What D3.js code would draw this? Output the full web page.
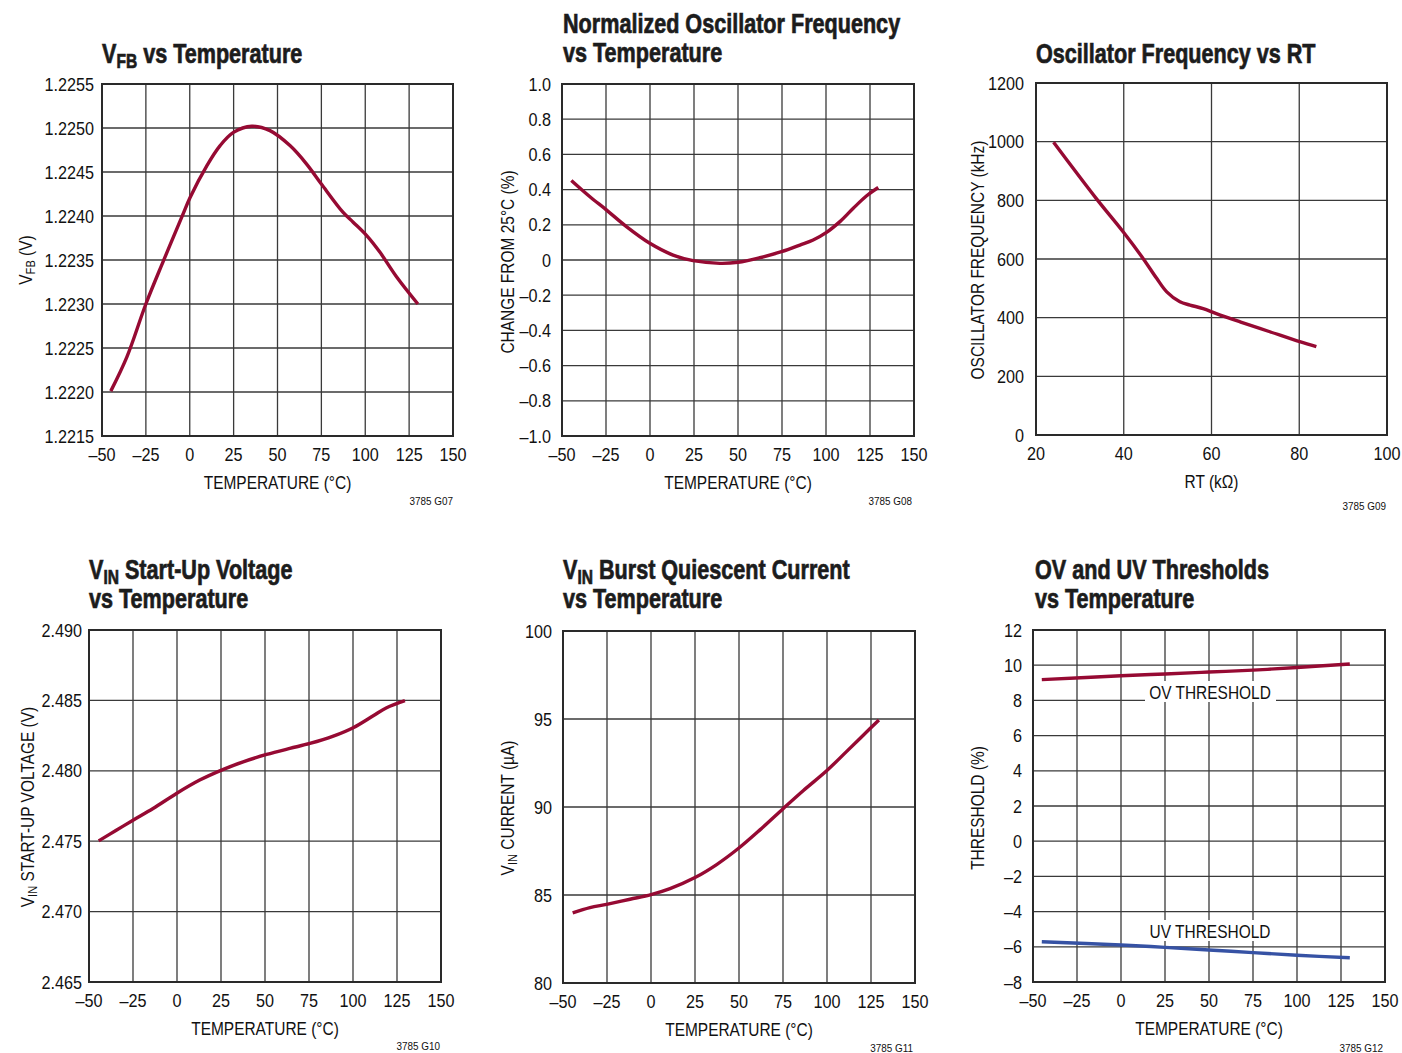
<!DOCTYPE html>
<html>
<head>
<meta charset="utf-8">
<script src="https://cdn.jsdelivr.net/npm/d3@7/dist/d3.min.js"></script>
<style>
  html, body { margin: 0; padding: 0; background: #fff; }
  svg { display: block; }
  text { font-family: "Liberation Sans", Arial, "Roboto", sans-serif; fill: #111; }
  .title { font-weight: bold; font-size: 27px; fill: #1c1c1c; stroke: #1c1c1c; stroke-width: 0.7px; }
  .tick { font-size: 18px; }
  .axt { font-size: 18px; }
  .code { font-size: 11px; }
</style>
</head>
<body>
<svg id="chart" width="1402" height="1053"></svg>
<script>
// ---------------- DATA ----------------
const tempTicks = [-50, -25, 0, 25, 50, 75, 100, 125, 150];
const tempTickLabels = ["–50", "–25", "0", "25", "50", "75", "100", "125", "150"];

// G07: VFB vs Temperature
const vfbTemp   = [-45, -35.8, -25, -15, -4.5, 0.2, 9.7, 17.3, 24.9, 35.3, 45.7, 57.1, 66.6, 75.1, 87.4, 93.1, 100.7, 108.3, 117.8, 130];
const vfbValues = [1.22201, 1.22240, 1.22300, 1.22349, 1.22399, 1.22421, 1.22457, 1.22480, 1.22495, 1.22502, 1.22497, 1.22480, 1.22459, 1.22436, 1.22404, 1.22393, 1.22378, 1.22359, 1.22331, 1.22300];
const vfbTicks = [1.2215, 1.2220, 1.2225, 1.2230, 1.2235, 1.2240, 1.2245, 1.2250, 1.2255];
const vfbTickLabels = ["1.2215", "1.2220", "1.2225", "1.2230", "1.2235", "1.2240", "1.2245", "1.2250", "1.2255"];

// G08: Normalized oscillator frequency vs temperature
const oscTemp   = [-44.7, -34.3, -24.8, -13.4, -0.1, 13.1, 24.5, 39.7, 50.1, 62.4, 74.7, 85.2, 92.7, 100.3, 107.9, 115.5, 123.1, 129.7];
const oscChange = [0.452, 0.361, 0.285, 0.190, 0.095, 0.028, -0.004, -0.019, -0.013, 0.013, 0.047, 0.085, 0.114, 0.157, 0.218, 0.294, 0.365, 0.412];
const oscTicks = [-1.0, -0.8, -0.6, -0.4, -0.2, 0, 0.2, 0.4, 0.6, 0.8, 1.0];
const oscTickLabels = ["–1.0", "–0.8", "–0.6", "–0.4", "–0.2", "0", "0.2", "0.4", "0.6", "0.8", "1.0"];

// G09: Oscillator frequency vs RT
const rtValues   = [24, 33.8, 39.9, 44.4, 47.5, 49.8, 52.8, 55.1, 58.1, 61.1, 66.5, 73.3, 80.1, 83.9];
const freqValues = [998, 805, 692, 602, 534, 488, 454, 443, 431, 414, 386, 352, 318, 301];
const rtTicks = [20, 40, 60, 80, 100];
const rtTickLabels = ["20", "40", "60", "80", "100"];
const freqTicks = [0, 200, 400, 600, 800, 1000, 1200];
const freqTickLabels = ["0", "200", "400", "600", "800", "1000", "1200"];

// G10: VIN start-up voltage vs temperature
const startTemp   = [-44.5, -34.5, -25, -13.6, -0.3, 12.9, 25.3, 37.6, 50.9, 64.1, 75.5, 88.8, 100.1, 111.5, 119.1, 129.5];
const startValues = [2.47502, 2.47578, 2.47649, 2.47732, 2.47839, 2.47934, 2.48005, 2.48064, 2.48116, 2.48159, 2.48194, 2.48246, 2.48306, 2.48391, 2.48448, 2.48498];
const startTicks = [2.465, 2.470, 2.475, 2.480, 2.485, 2.490];
const startTickLabels = ["2.465", "2.470", "2.475", "2.480", "2.485", "2.490"];

// G11: VIN burst quiescent current vs temperature
const burstTemp    = [-44.5, -34.7, -25.2, -11.9, 0, 10.8, 25, 37.3, 49.6, 61.9, 75.2, 86.6, 99.8, 111.2, 120.6, 129.5];
const burstCurrent = [83.98, 84.28, 84.47, 84.76, 85.02, 85.36, 85.99, 86.73, 87.64, 88.70, 89.92, 90.94, 92.06, 93.16, 94.08, 94.94];
const burstTicks = [80, 85, 90, 95, 100];
const burstTickLabels = ["80", "85", "90", "95", "100"];

// G12: OV and UV thresholds vs temperature
const thrTemp = [-45, 0, 25, 50, 75, 100, 130];
const ovThreshold = [9.18, 9.40, 9.50, 9.61, 9.72, 9.87, 10.07];
const uvThreshold = [-5.71, -5.90, -6.03, -6.18, -6.33, -6.48, -6.62];
const thrTicks = [-8, -6, -4, -2, 0, 2, 4, 6, 8, 10, 12];
const thrTickLabels = ["–8", "–6", "–4", "–2", "0", "2", "4", "6", "8", "10", "12"];

// ---------------- DRAWING ----------------
const RED = "#960a33";
const BLUE = "#3652a4";
const SX_TITLE = 0.80, SX_TICK = 0.9, SX_AXT = 0.86;
const svg = d3.select("#chart");

function zip(xs, ys) { return xs.map((x, i) => [x, ys[i]]); }

// text placed at (x,y), horizontally condensed by sx; optional rotation
function ctext(g, cls, x, y, anchor, sx, rot) {
  return g.append("text").attr("class", cls).attr("text-anchor", anchor)
    .attr("transform", `translate(${x},${y})` + (rot ? ` rotate(${rot})` : "") + ` scale(${sx},1)`);
}

function rich(t, parts) {
  let prevSub = false;
  parts.forEach(([txt, sub]) => {
    const ts = t.append("tspan").text(txt);
    if (sub) { ts.attr("font-size", "0.72em").attr("dy", "0.25em"); }
    else if (prevSub) { ts.attr("dy", "-0.18em"); }
    prevSub = sub;
  });
  return t;
}

function panel(cfg) {
  const g = svg.append("g");
  const x = d3.scaleLinear().domain(cfg.xDomain).range([cfg.left, cfg.right]);
  const y = d3.scaleLinear().domain(cfg.yDomain).range([cfg.bottom, cfg.top]);

  // grid
  const grid = g.append("g");
  grid.selectAll("line.v").data(cfg.xTicks.slice(1, -1)).join("line")
    .attr("x1", d => x(d)).attr("x2", d => x(d))
    .attr("y1", cfg.top).attr("y2", cfg.bottom)
    .attr("stroke", "#3a3a3a").attr("stroke-width", 1.3);
  grid.selectAll("line.h").data(cfg.yTicks.slice(1, -1)).join("line")
    .attr("y1", d => y(d)).attr("y2", d => y(d))
    .attr("x1", cfg.left).attr("x2", cfg.right)
    .attr("stroke", "#3a3a3a").attr("stroke-width", 1.3);

  // label boxes
  (cfg.boxes || []).forEach(b => {
    g.append("rect").attr("x", b.x).attr("y", b.y).attr("width", b.w).attr("height", b.h).attr("fill", "#fff");
    ctext(g, "axt", b.tx, b.ty, "middle", SX_AXT).text(b.text);
  });

  // border
  g.append("rect").attr("x", cfg.left).attr("y", cfg.top)
    .attr("width", cfg.right - cfg.left).attr("height", cfg.bottom - cfg.top)
    .attr("fill", "none").attr("stroke", "#2a2a2a").attr("stroke-width", 2);

  // x tick labels
  cfg.xTicks.forEach((d, i) => {
    ctext(g, "tick", x(d), cfg.bottom + 24.5, "middle", SX_TICK).text(cfg.xLabels[i]);
  });
  // y tick labels
  cfg.yTicks.forEach((d, i) => {
    ctext(g, "tick", cfg.left - cfg.yGap, y(d) + 6.5, "end", SX_TICK).text(cfg.yLabels[i]);
  });

  // axis titles
  ctext(g, "axt", (cfg.left + cfg.right) / 2, cfg.bottom + 52.5, "middle", SX_AXT).text(cfg.xTitle);
  rich(ctext(g, "axt", cfg.yTitleX + 6.5, cfg.yTitleY, "middle", SX_AXT, -90), cfg.yTitle);

  // title
  cfg.title.forEach((line, i) => {
    rich(ctext(g, "title", cfg.titleX, cfg.titleY[i], "start", SX_TITLE), line);
  });

  // code
  ctext(g, "code", cfg.codeX, cfg.codeY, "end", 0.9).text(cfg.code);

  // series
  const line = d3.line().x(d => x(d[0])).y(d => y(d[1])).curve(d3.curveCatmullRom.alpha(0.5));
  cfg.series.forEach(s => {
    g.append("path").datum(s.data).attr("d", line)
      .attr("fill", "none").attr("stroke", s.color).attr("stroke-width", 3.4)
      .attr("stroke-linecap", "butt").attr("stroke-linejoin", "round");
  });
}

panel({
  left: 102, right: 453, top: 84, bottom: 436,
  xDomain: [-50, 150], yDomain: [1.2215, 1.2255],
  xTicks: tempTicks, xLabels: tempTickLabels,
  yTicks: vfbTicks, yLabels: vfbTickLabels, yGap: 8,
  xTitle: "TEMPERATURE (°C)",
  yTitle: [["V", false], ["FB", true], [" (V)", false]], yTitleX: 25, yTitleY: 260,
  title: [[["V", false], ["FB", true], [" vs Temperature", false]]], titleX: 102, titleY: [63],
  code: "3785 G07", codeX: 453, codeY: 505,
  series: [{ data: zip(vfbTemp, vfbValues), color: RED }]
});

panel({
  left: 562, right: 914, top: 84, bottom: 436,
  xDomain: [-50, 150], yDomain: [-1, 1],
  xTicks: tempTicks, xLabels: tempTickLabels,
  yTicks: oscTicks, yLabels: oscTickLabels, yGap: 11,
  xTitle: "TEMPERATURE (°C)",
  yTitle: [["CHANGE FROM 25°C (%)", false]], yTitleX: 507, yTitleY: 262,
  title: [[["Normalized Oscillator Frequency", false]], [["vs Temperature", false]]], titleX: 563, titleY: [33, 62],
  code: "3785 G08", codeX: 912, codeY: 505,
  series: [{ data: zip(oscTemp, oscChange), color: RED }]
});

panel({
  left: 1036, right: 1387, top: 83, bottom: 435,
  xDomain: [20, 100], yDomain: [0, 1200],
  xTicks: rtTicks, xLabels: rtTickLabels,
  yTicks: freqTicks, yLabels: freqTickLabels, yGap: 12,
  xTitle: "RT (kΩ)",
  yTitle: [["OSCILLATOR FREQUENCY (kHz)", false]], yTitleX: 977, yTitleY: 260,
  title: [[["Oscillator Frequency vs RT", false]]], titleX: 1036, titleY: [63],
  code: "3785 G09", codeX: 1386, codeY: 510,
  series: [{ data: zip(rtValues, freqValues), color: RED }]
});

panel({
  left: 89, right: 441, top: 630, bottom: 982,
  xDomain: [-50, 150], yDomain: [2.465, 2.490],
  xTicks: tempTicks, xLabels: tempTickLabels,
  yTicks: startTicks, yLabels: startTickLabels, yGap: 7,
  xTitle: "TEMPERATURE (°C)",
  yTitle: [["V", false], ["IN", true], [" START-UP VOLTAGE (V)", false]], yTitleX: 27, yTitleY: 807,
  title: [[["V", false], ["IN", true], [" Start-Up Voltage", false]], [["vs Temperature", false]]], titleX: 89, titleY: [579, 608],
  code: "3785 G10", codeX: 440, codeY: 1050,
  series: [{ data: zip(startTemp, startValues), color: RED }]
});

panel({
  left: 563, right: 915, top: 631, bottom: 983,
  xDomain: [-50, 150], yDomain: [80, 100],
  xTicks: tempTicks, xLabels: tempTickLabels,
  yTicks: burstTicks, yLabels: burstTickLabels, yGap: 11,
  xTitle: "TEMPERATURE (°C)",
  yTitle: [["V", false], ["IN", true], [" CURRENT (µA)", false]], yTitleX: 507, yTitleY: 808,
  title: [[["V", false], ["IN", true], [" Burst Quiescent Current", false]], [["vs Temperature", false]]], titleX: 563, titleY: [579, 608],
  code: "3785 G11", codeX: 913, codeY: 1052,
  series: [{ data: zip(burstTemp, burstCurrent), color: RED }]
});

panel({
  left: 1033, right: 1385, top: 630, bottom: 982,
  xDomain: [-50, 150], yDomain: [-8, 12],
  xTicks: tempTicks, xLabels: tempTickLabels,
  yTicks: thrTicks, yLabels: thrTickLabels, yGap: 11,
  xTitle: "TEMPERATURE (°C)",
  yTitle: [["THRESHOLD (%)", false]], yTitleX: 977, yTitleY: 808,
  title: [[["OV and UV Thresholds", false]], [["vs Temperature", false]]], titleX: 1035, titleY: [579, 608],
  code: "3785 G12", codeX: 1383, codeY: 1052,
  boxes: [
    { x: 1145, y: 681, w: 131, h: 21, tx: 1210, ty: 699, text: "OV THRESHOLD" },
    { x: 1145, y: 920, w: 131, h: 21, tx: 1210, ty: 938, text: "UV THRESHOLD" }
  ],
  series: [
    { data: zip(thrTemp, ovThreshold), color: RED },
    { data: zip(thrTemp, uvThreshold), color: BLUE }
  ]
});
</script>
</body>
</html>
